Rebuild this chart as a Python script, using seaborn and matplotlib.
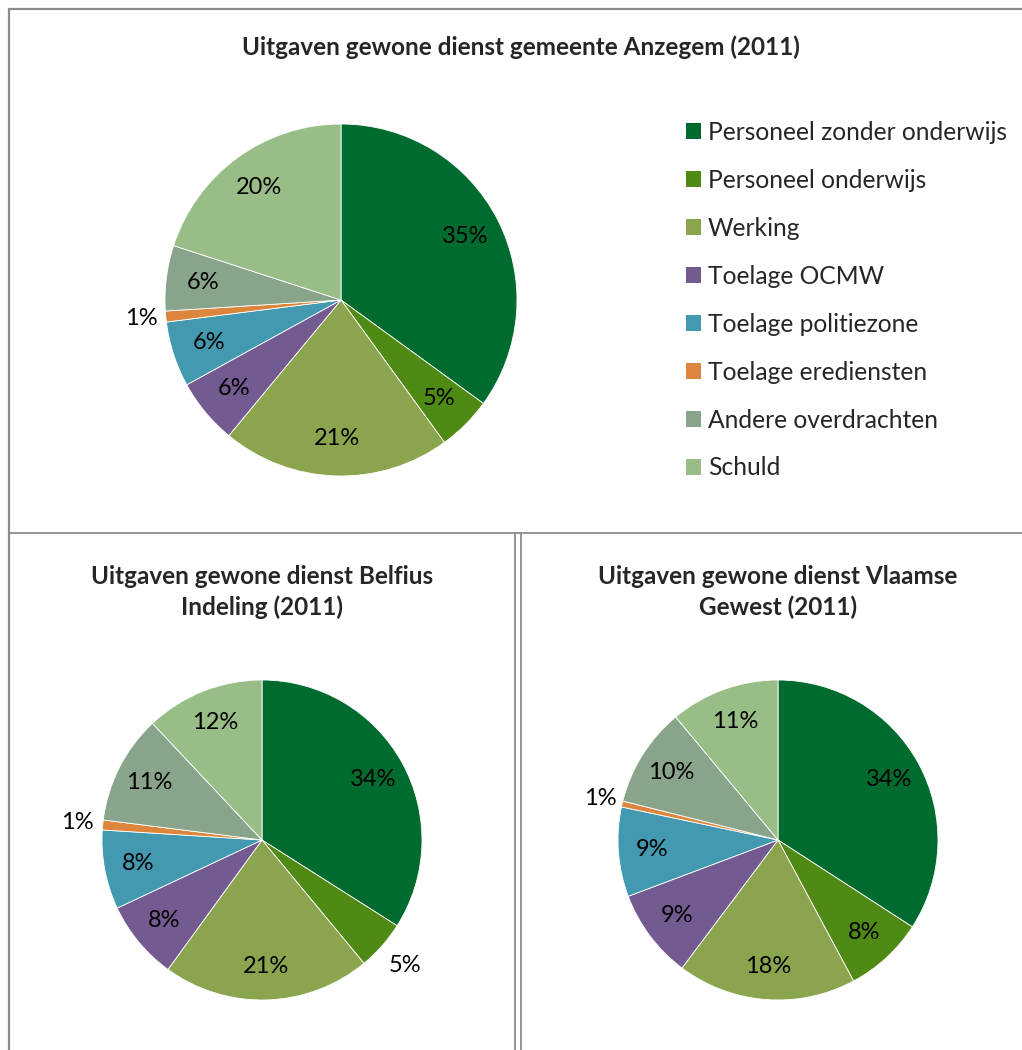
import math
import matplotlib
matplotlib.use("Agg")
import matplotlib.pyplot as plt
from matplotlib.lines import Line2D
from matplotlib.patches import Patch
import seaborn as sns

categories = ["Personeel zonder onderwijs", "Personeel onderwijs", "Werking",
              "Toelage OCMW", "Toelage politiezone", "Toelage erediensten",
              "Andere overdrachten", "Schuld"]
anzegem = [35, 5, 21, 6, 6, 1, 6, 20]
belfius = [34, 5, 21, 8, 8, 1, 11, 12]
vlaamse = [34, 8, 18, 9, 9, 0.6, 10, 11]
vlaamse_labels = ["34%", "8%", "18%", "9%", "9%", "1%", "10%", "11%"]
anzegem_labels = [f"{v}%" for v in anzegem]
belfius_labels = [f"{v}%" for v in belfius]
titles = ["Uitgaven gewone dienst gemeente Anzegem (2011)",
          "Uitgaven gewone dienst Belfius\nIndeling (2011)",
          "Uitgaven gewone dienst Vlaamse\nGewest (2011)"]

sns.set_theme(style="white")
plt.rcParams['font.family'] = ['Lato', 'DejaVu Sans']

colors = sns.color_palette(["#006B2E", "#4F8B14", "#8BA54F", "#735A90",
                            "#4299B0", "#DC853D", "#88A48B", "#98BD86"])

W, H = 1022, 1050
fig = plt.figure(figsize=(W / 100, H / 100), dpi=100)
fig.patch.set_facecolor("white")


def pie_axes(cx, cy, r):
    return fig.add_axes([(cx - r) / W, (H - cy - r) / H, 2 * r / W, 2 * r / H])


def draw_pie(ax, values, labels, outside, fs):
    wedges, _ = ax.pie(values, colors=colors, startangle=90, counterclock=False,
                       radius=1, wedgeprops=dict(edgecolor="white", linewidth=0.6))
    total = sum(values)
    cum = 0
    for i, v in enumerate(values):
        mid = (cum + v / 2) / total
        cum += v
        ang = math.radians(90 - 360 * mid)
        d = outside.get(i, 0.79)
        ax.text(d * math.cos(ang), d * math.sin(ang), labels[i], ha="center",
                va="center", fontsize=fs, color="black")
    ax.set_xlim(-1, 1)
    ax.set_ylim(-1, 1)
    ax.set_aspect("equal")
    ax.axis("off")
    return wedges


PF = 17
ax1 = pie_axes(341, 300, 176)
draw_pie(ax1, anzegem, anzegem_labels, {5: 1.14}, PF)
ax2 = pie_axes(262, 840, 160)
draw_pie(ax2, belfius, belfius_labels, {1: 1.19, 5: 1.16}, PF)
ax3 = pie_axes(778, 840, 160)
draw_pie(ax3, vlaamse, vlaamse_labels, {5: 1.14}, PF)

TF = 17.5
fig.text(521 / W, 1 - 47 / H, titles[0], ha="center", va="center",
         fontsize=TF, fontweight="bold")
fig.text(262 / W, 1 - 592 / H, titles[1], ha="center", va="center",
         fontsize=TF, fontweight="bold", linespacing=1.4)
fig.text(778 / W, 1 - 592 / H, titles[2], ha="center", va="center",
         fontsize=TF, fontweight="bold", linespacing=1.4)

handles = [Patch(facecolor=c, edgecolor="none") for c in colors]
fig.legend(handles, categories, loc="upper left",
           bbox_to_anchor=(676 / W, 1 - 111 / H), frameon=False,
           fontsize=17.7, handlelength=0.6, handleheight=0.6,
           handletextpad=0.3, labelspacing=1.015, borderaxespad=0)

gray = "#8C8C8C"
lw = 1.6
def line(x0, y0, x1, y1, c=gray, w=lw):
    fig.add_artist(Line2D([x0 / W, x1 / W], [1 - y0 / H, 1 - y1 / H],
                          color=c, linewidth=w, transform=fig.transFigure))

line(9, 9, W, 9)
line(9, 9, 9, H)
line(9, 533, W, 533, w=1.3)
line(515, 533, 515, H, w=1.3)
line(521, 533, 521, H, w=1.3)

fig.savefig("out.png", dpi=100)
